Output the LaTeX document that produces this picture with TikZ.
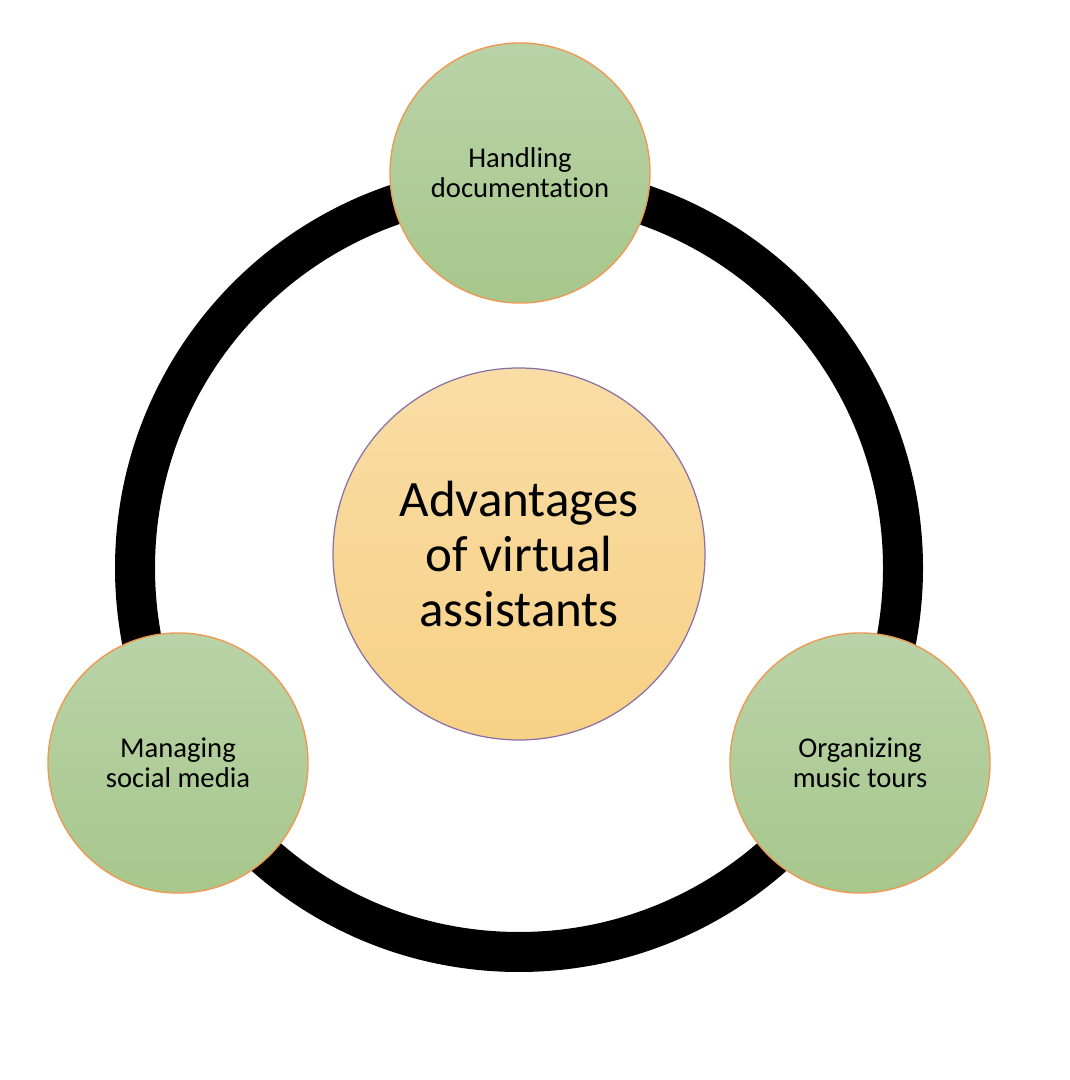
\documentclass[tikz,border=0pt]{standalone}
\usepackage{fontspec}
\setmainfont{Carlito}[Ligatures=NoCommon]
\usepackage{tikz}
\usetikzlibrary{positioning,calc}
\definecolor{leafTop}{HTML}{B9D3A8}
\definecolor{leafBot}{HTML}{A7C78C}
\definecolor{leafEdge}{HTML}{EE9A55}
\definecolor{hubTop}{HTML}{F9DDA6}
\definecolor{hubBot}{HTML}{F7D185}
\definecolor{hubEdge}{HTML}{8A70A8}

\begin{document}
\begin{tikzpicture}[
    ring/.style={draw=black, line width=0.8cm},
    item/.style={circle, draw=leafEdge, line width=0.8pt, top color=leafTop, bottom color=leafBot, minimum size=5.2cm, inner sep=0pt, align=center, font=\fontsize{16.3}{17}\selectfont},
    hub/.style={circle, draw=hubEdge, line width=0.7pt, top color=hubTop, bottom color=hubBot, minimum size=7.44cm, inner sep=0pt, align=center, font=\fontsize{29}{31.5}\selectfont},
]
    \useasboundingbox (0,0) rectangle (21.4,21.6);

    % Ring
    \coordinate (centre) at (10.38,10.24);
    \draw[ring] (centre) circle (7.68cm);

    % Centre
    \node[hub] (adv) at (10.38,10.52) {Advantages\\of virtual\\assistants};

    % Outer items
    \node[item] (docs) at (10.40,18.14) {Handling\\documentation};
    \node[item] (social) at (3.56,6.34) {Managing\\social media};
    \node[item] (tours) at (17.20,6.34) {Organizing\\music tours};
\end{tikzpicture}
\end{document}
